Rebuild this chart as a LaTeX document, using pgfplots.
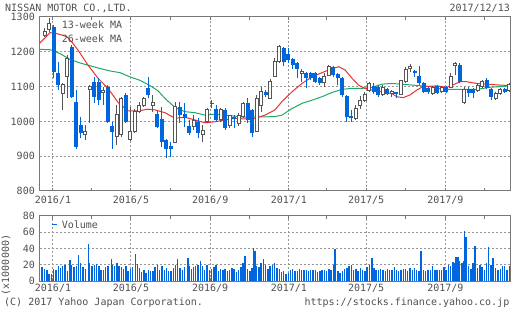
\documentclass[border=0pt]{standalone}
\usepackage{pgfplots}
\pgfplotsset{compat=1.18}
\usepackage{pgfplotstable}
\usepackage{fontspec}
\setmainfont{DejaVu Sans Mono}
\setmonofont{DejaVu Sans Mono}

\definecolor{candleblue}{RGB}{0,102,221}
\definecolor{candlegray}{RGB}{85,85,85}
\definecolor{maRed}{RGB}{230,50,50}
\definecolor{maGreen}{RGB}{30,170,100}
\definecolor{gridgray}{RGB}{150,150,150}
\definecolor{framegray}{RGB}{120,120,120}
\definecolor{txt}{RGB}{80,80,80}
\newcommand\lab{\fontsize{10bp}{12bp}\selectfont}

% weekly candles: k = week index (k=0 : week of 2015/12/21)
\pgfplotstableread{
k o h l c
0 1248 1268 1243 1258
1 1263 1298 1258 1282
4 1081 1110 1033 1105
5 1128 1191 1066 1181
9 961 990 946 972
10 1093 1105 994 1100
13 1083 1100 1047 1090
16 956 1047 932 1020
17 961 1071 956 1066
19 949 1042 944 972
20 970 1037 966 1028
21 1028 1057 1023 1047
22 1047 1071 1042 1066
24 1045 1076 1028 1055
29 939 1057 939 1042
33 985 1018 975 1002
35 963 990 942 975
36 999 1038 994 1035
39 1006 1038 999 1033
41 987 1018 980 1016
43 994 1023 987 1018
44 1013 1057 1009 1052
47 970 1076 970 1066
48 1047 1100 1028 1085
50 1066 1121 1063 1114
51 1130 1181 1128 1172
52 1172 1220 1167 1215
57 1137 1152 1114 1142
62 1112 1138 1100 1128
63 1133 1162 1130 1159
69 1009 1047 1004 1037
70 1047 1073 1037 1059
71 1059 1085 1057 1078
72 1090 1114 1085 1109
75 1078 1104 1073 1098
77 1079 1090 1071 1085
79 1078 1119 1076 1117
80 1114 1157 1109 1148
81 1152 1165 1143 1158
86 1081 1102 1076 1098
88 1085 1102 1081 1098
90 1098 1138 1095 1130
91 1160 1172 1133 1165
93 1054 1100 1050 1092
96 1088 1109 1085 1102
97 1100 1118 1095 1114
100 1066 1085 1062 1081
101 1081 1095 1076 1092
103 1090 1110 1085 1107
}\upcandles
% helper columns for drawing the hollow boxes
\pgfplotstablecreatecol[create col/expr={\thisrow{k}-0.333}]{kl}{\upcandles}
\pgfplotstablecreatecol[create col/expr={\thisrow{k}+0.333}]{kr}{\upcandles}
\pgfplotstablecreatecol[create col/expr={\thisrow{o}+1.44}]{oi}{\upcandles}

\pgfplotstableread{
k o h l c
2 1272 1277 1124 1143
3 1138 1172 1090 1105
6 1215 1220 1066 1071
7 1057 1090 922 927
8 990 1013 951 966
11 1114 1128 1052 1071
12 1114 1124 1047 1061
14 1100 1105 994 999
15 988 999 922 969
18 1076 1081 994 999
23 1095 1128 1066 1076
25 1021 1030 980 983
26 1006 1042 925 942
27 946 949 894 920
28 929 942 899 920
30 1042 1057 994 1018
31 1021 1052 985 1009
32 987 1004 961 968
34 999 1009 951 968
37 1054 1061 1038 1049
38 1035 1047 999 1004
40 1033 1038 975 982
42 1013 1018 980 1006
45 1054 1066 994 1004
46 1033 1035 956 966
49 1085 1090 1071 1076
53 1210 1213 1159 1172
54 1194 1210 1167 1176
55 1178 1181 1152 1162
56 1167 1172 1124 1152
58 1140 1143 1095 1124
59 1138 1143 1119 1124
60 1140 1143 1110 1114
61 1126 1128 1104 1109
64 1157 1159 1128 1133
65 1135 1138 1104 1124
66 1124 1128 1071 1076
67 1073 1076 999 1012
68 1015 1033 999 1009
73 1102 1110 1080 1085
74 1100 1104 1071 1076
76 1092 1095 1075 1078
78 1084 1085 1066 1078
82 1145 1148 1129 1138
83 1130 1159 1105 1109
84 1109 1114 1081 1085
85 1095 1100 1078 1085
87 1102 1105 1078 1083
89 1098 1102 1081 1085
92 1162 1167 1109 1114
94 1092 1098 1071 1083
95 1092 1095 1066 1081
98 1119 1124 1092 1095
99 1092 1095 1062 1071
102 1092 1095 1081 1085
}\downcandles

% volume (millions of shares)
\pgfplotstableread{
k v
-0.6 17
0 15
0.5 13
1 8
1.5 8
2 15
2.5 13
3 19
3.5 16
4 18
4.5 20
5 12
5.6 26
6 20
6.5 17
7 18
7.45 32
8 22
8.5 17
9 15
9.67 46
10 22
10.5 18
11 20
11.5 21
12 18
12.5 13
13 14
13.5 17
14 18
14.85 27
15 20
15.5 19
16 22
16.5 18
17 17
17.5 15
18 18
18.5 12
19 15
19.5 17
20.2 33
20.6 21
21 16
21.5 11
22 13
22.5 10
23 14
23.5 12
24 12
24.5 17
25 20
25.5 14
26 18
26.5 13
27 16
27.5 12
28 12
28.5 16
29 20
29.5 27
30 16
30.5 13
31 17
31.8 28
32 18
32.5 15
33 17
33.5 19
34 20
34.5 24
35 18
35.5 13
36 20
36.5 14
37 15
37.5 17
38 20
38.5 12
39 15
39.5 14
40 15
40.5 12
41 14
41.5 16
42 15
42.5 11
43 14
43.5 17
44 22
44.4 31
45 15
45.5 12
46 16
46.3 41
46.6 37
47 19
47.5 17
48 22
48.5 27
49 20
49.5 15
50 18
50.5 20
51 22
51.5 16
52 15
52.5 11
53 12
53.5 9
54 10
54.5 14
55 15
55.5 12
56 12
56.5 15
57 14
57.5 13
58 14
58.5 12
59 14
59.5 13
60 13
60.5 11
61 12
61.5 14
62 14
62.5 12
63 15
63.5 13
64 20
64.4 39
65 12
65.5 10
66 12
66.5 15
67 16
67.5 19
68 20
68.5 14
69 15
69.5 12
70 16
70.5 13
71 12
71.5 17
72 20
72.6 28
73 16
73.5 13
74 14
74.5 15
75 13
75.5 12
76 15
76.5 14
77 14
77.5 17
78 13
78.5 12
79 13
79.5 15
80 15
80.5 12
81 16
81.5 14
82 16
82.5 13
83 12
83.4 37
84 14
84.5 12
85 14
85.5 13
86 18
86.5 14
87 14
87.5 13
88 14
88.5 17
89 14
89.5 20
90 18
90.5 23
91 22
91.2 29
91.6 30
92 24
92.5 22
93 25
93.1 61
93.4 54
94 18
94.5 15
95 22
95.4 43
96 16
96.5 20
97 17
97.5 14
98 22
98.4 42
99 20
99.4 28
100 16
100.5 13
101 15
101.5 18
102 18
102.5 13
103 14
103.1 18
}\volumes

\pgfplotsset{
  stockbase/.style={
    scale only axis, width=470.5bp,
    xmin=-1.15, xmax=103.17,
    axis line style={framegray, line width=1bp},
    tick align=inside,
    major tick length=3bp, minor tick length=3bp,
    xtick={1.84,19.13,36.70,54.13,71.27,88.84},
    minor xtick={10.41,27.84,45.41,62.55,79.98,97.55},
    xtick style={framegray, line width=1bp},
    ytick style={draw=none},
    xmajorgrids, ymajorgrids,
    major grid style={gridgray, line width=1bp, dash pattern=on 2bp off 2bp},
    tick label style={font=\lab, text=txt},
    yticklabel style={inner sep=0pt, xshift=-4.5bp},
    /pgf/number format/assume math mode=true,
    /pgf/number format/1000 sep={},
    clip=true,
  },
  nomarks/.style={only marks, mark=*, mark size=0pt,
    mark options={draw=none, fill=none, opacity=0}},
  ebar/.style 2 args={nomarks, error bars/.cd, y dir=plus, y explicit,
    error mark=none, error bar style={draw=#1, line width=#2}},
  hbar/.style={nomarks, error bars/.cd, x dir=both, x explicit,
    error mark=none, error bar style={draw=candlegray, line width=1bp}},
}

\begin{document}
\begin{tikzpicture}
\useasboundingbox (0,0) rectangle (512bp,310bp);

% ---------------- price panel ----------------
\begin{axis}[stockbase,
  at={(39.5bp,119bp)}, anchor=south west,
  height=174bp,
  ymin=800, ymax=1300,
  ytick={800,900,1000,1100,1200,1300},
  xticklabels={2016/1,2016/5,2016/9,2017/1,2017/5,2017/9},
  xticklabel style={inner sep=0pt, yshift=-5bp},
]
% moving averages
\addplot[maGreen, line width=1bp, mark=none] coordinates {
(-1.15,1207) (1.18,1206) (3.39,1195) (5.61,1178) (7.83,1168) (10.04,1160)
(12.26,1152) (14.48,1145) (16.70,1140) (18.91,1128) (21.13,1118) (23.35,1103)
(25.12,1088) (26.68,1066) (28.89,1040) (31.11,1028) (33.33,1025) (35.54,1018)
(37.76,1021) (39.98,1018) (42.19,1015) (44.41,1012) (46.63,1013) (48.85,1013)
(51.06,1014) (52.61,1018) (54.83,1037) (57.05,1052) (59.27,1061) (61.49,1071)
(63.70,1083) (65.92,1092) (68.14,1095) (70.36,1095) (72.57,1098) (74.79,1107)
(77.01,1109) (81.00,1105) (85.43,1100) (88.31,1092) (91.35,1092) (95.79,1092)
(98.74,1098) (103.17,1102)};
\addplot[maRed, line width=1bp, mark=none] coordinates {
(-1.15,1224) (0.07,1240) (1.18,1255) (2.51,1253) (3.84,1248) (4.94,1243)
(6.05,1228) (7.38,1205) (9.60,1162) (11.82,1124) (14.04,1095) (16.25,1055)
(18.47,1030) (20.69,1030) (22.91,1035) (24.46,1033) (26.68,1025) (28.89,1009)
(31.11,1012) (33.33,1004) (35.54,996) (37.76,999) (39.98,1004) (42.19,1009)
(44.41,1007) (46.63,1009) (48.85,1018) (51.06,1033) (52.61,1057) (54.83,1085)
(57.05,1109) (59.27,1128) (61.49,1140) (63.70,1152) (65.19,1157) (66.59,1148)
(68.14,1124) (69.62,1104) (71.02,1095) (72.57,1090) (74.79,1085) (77.01,1080)
(78.05,1071) (79.45,1068) (81.00,1076) (82.48,1090) (83.88,1100) (86.92,1102)
(89.14,1098) (90.53,1105) (92.09,1114) (93.57,1114) (95.79,1109) (98.00,1107)
(100.22,1105) (103.17,1103)};
% falling weeks: blue wick + filled blue body
\addplot[ebar={candleblue}{1bp}]
  table[x=k, y=l, y error plus expr=\thisrow{h}-\thisrow{l}] {\downcandles};
\addplot[ebar={candleblue}{4bp}]
  table[x=k, y=c, y error plus expr={max(\thisrow{o}-\thisrow{c},2.9)}] {\downcandles};
% rising weeks: hollow grey box, wick above and below it only
\addplot[ebar={candlegray}{1bp}]
  table[x=k, y=c, y error plus expr=\thisrow{h}-\thisrow{c}] {\upcandles};
\addplot[ebar={candlegray}{1bp}]
  table[x=k, y=l, y error plus expr=\thisrow{o}-\thisrow{l}] {\upcandles};
\addplot[ebar={white}{2bp}]
  table[x=k, y=oi, y error plus expr={max(\thisrow{c}-\thisrow{o}-2.88,0)}] {\upcandles};
\addplot[ebar={candlegray}{1bp}]
  table[x=kl, y=o, y error plus expr=\thisrow{c}-\thisrow{o}] {\upcandles};
\addplot[ebar={candlegray}{1bp}]
  table[x=kr, y=o, y error plus expr=\thisrow{c}-\thisrow{o}] {\upcandles};
\addplot[hbar] table[x=k, y=o, x error expr=0.443] {\upcandles};
\addplot[hbar] table[x=k, y=c, x error expr=0.443] {\upcandles};
\end{axis}

% ---------------- volume panel ----------------
\begin{axis}[stockbase,
  at={(39.5bp,29bp)}, anchor=south west,
  height=65bp,
  ymin=0, ymax=80,
  ytick={0,20,40,60,80},
  xticklabels={2016/1,2016/5,2016/9,2017/1,2017/5,2017/9},
  xticklabel style={inner sep=0pt, yshift=-3bp},
]
\addplot[ycomb, candleblue, line width=1.4bp, mark=none] table[x=k, y=v] {\volumes};
\end{axis}

% ---------------- texts ----------------
\begin{scope}[every node/.style={inner sep=0pt, text=txt, font=\lab}]
\node[anchor=base west] at (5bp,298.3bp) {NISSAN MOTOR CO.,LTD.};
\node[anchor=base east] at (510bp,298.3bp) {2017/12/13};
\node[anchor=base west] at (61.7bp,281bp) {13-week MA};
\node[anchor=base west] at (61.7bp,267.3bp) {26-week MA};
\draw[candleblue, line width=1bp] (51.7bp,85bp) -- (56.7bp,85bp);
\node[anchor=base west] at (61.7bp,81bp) {Volume};
\node[rotate=90] at (6bp,45bp) {(x1000000)};
\node[anchor=base west] at (4bp,4.5bp) {(C) 2017 Yahoo Japan Corporation.};
\node[anchor=base east] at (509.5bp,4.5bp) {https://stocks.finance.yahoo.co.jp};
\end{scope}
\end{tikzpicture}
\end{document}
